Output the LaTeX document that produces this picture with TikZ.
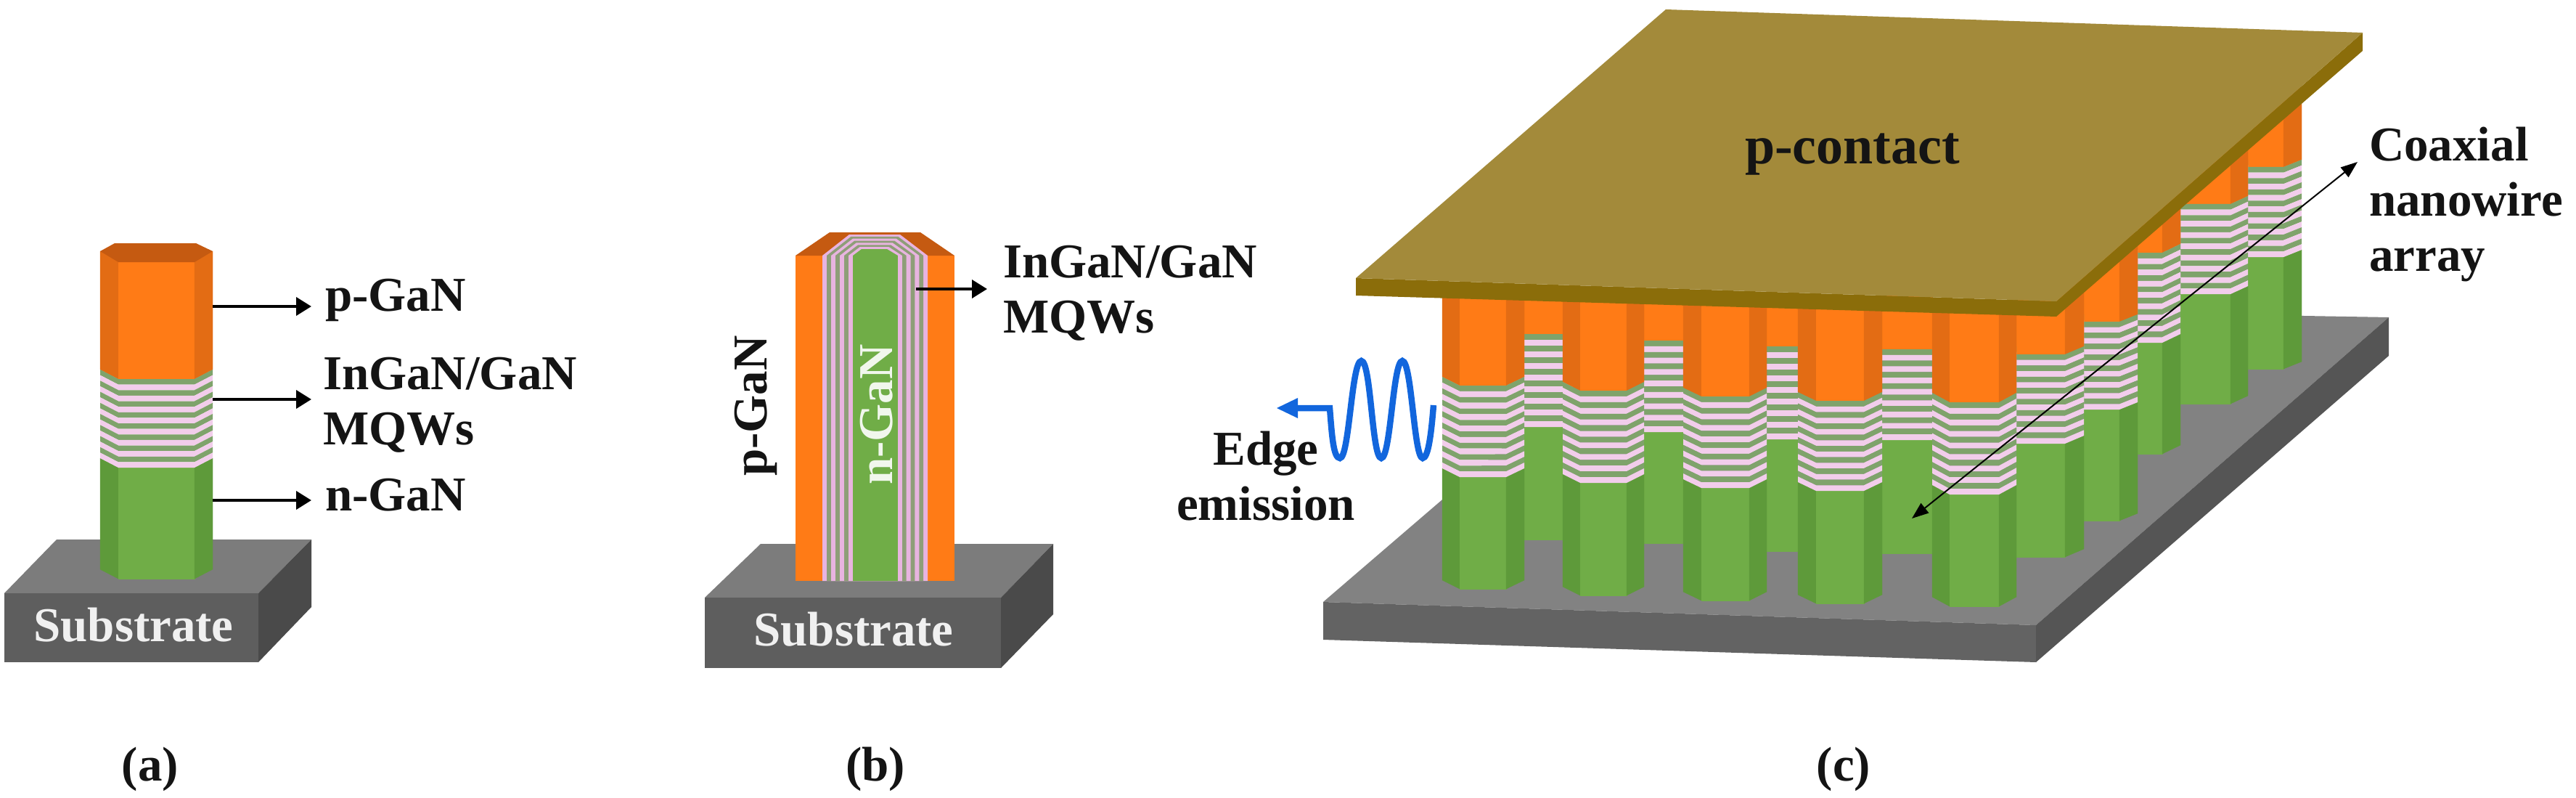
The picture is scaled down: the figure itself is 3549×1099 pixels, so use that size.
\documentclass[tikz,border=0pt]{standalone}
\usepackage{fontspec}
\setmainfont{Liberation Serif}
\usetikzlibrary{arrows.meta}
\definecolor{orF}{HTML}{FF7B16}
\definecolor{orS}{HTML}{E36C14}
\definecolor{orT}{HTML}{C55A11}
\definecolor{grF}{HTML}{70AD47}
\definecolor{grS}{HTML}{5E9A3A}
\definecolor{mqG}{HTML}{7FA36B}
\definecolor{mqP}{HTML}{F2CDEB}
\definecolor{shP}{HTML}{E8B4E0}
\definecolor{shG}{HTML}{8E9E78}
\definecolor{subT}{HTML}{7C7C7C}
\definecolor{subF}{HTML}{5E5E5E}
\definecolor{subS}{HTML}{4A4A4A}
\definecolor{baseT}{HTML}{828282}
\definecolor{baseF}{HTML}{636363}
\definecolor{baseS}{HTML}{555555}
\definecolor{plateT}{HTML}{A38A3A}
\definecolor{plateS}{HTML}{8B6D0A}
\definecolor{waveB}{HTML}{1266DD}
\tikzset{
  lab/.style={inner sep=0pt,outer sep=0pt,font=\fontsize{67}{76}\selectfont\bfseries,text=black!92},
  sublab/.style={lab,text=white!94!black},
  callout/.style={line width=4pt,-{Triangle[length=21pt,width=25pt]}},
  thinboth/.style={line width=2pt,{Triangle[length=23pt,width=17pt]}-{Triangle[length=23pt,width=17pt]}},
  solid/.style={fill=#1,draw=#1,line width=.4pt,line join=round},
}
% \wire(x0,x1,x2,x3)(orangeBottom,mqwBottom,wireBottom,sideRise,top)
\def\wire(#1,#2,#3,#4)(#5,#6,#7,#8,#9){%
  \path[solid=orS] (#1,#9)--(#2,#9)--(#2,#5)--(#1,#5-#8)--cycle;
  \path[solid=orF] (#2,#9)--(#3,#9)--(#3,#5)--(#2,#5)--cycle;
  \path[solid=orS] (#3,#9)--(#4,#9)--(#4,#5-#8)--(#3,#5)--cycle;
  \path[solid=grS] (#1,#6-#8)--(#2,#6)--(#2,#7)--(#1,#7-#8)--cycle;
  \path[solid=grF] (#2,#6)--(#3,#6)--(#3,#7)--(#2,#7)--cycle;
  \path[solid=grS] (#3,#6)--(#4,#6-#8)--(#4,#7-#8)--(#3,#7)--cycle;
  \pgfmathsetmacro\pp{(#6-#5)/16}
  \foreach \k in {0,...,7}{%
    \pgfmathsetmacro\ya{#5+2*\k*\pp}
    \pgfmathsetmacro\yb{\ya+\pp}
    \pgfmathsetmacro\yc{\yb+\pp}
    \fill[mqG] (#1,\ya-#8)--(#2,\ya)--(#3,\ya)--(#4,\ya-#8)--(#4,\yb-#8)--(#3,\yb)--(#2,\yb)--(#1,\yb-#8)--cycle;
    \fill[mqP] (#1,\yb-#8)--(#2,\yb)--(#3,\yb)--(#4,\yb-#8)--(#4,\yc-#8)--(#3,\yc)--(#2,\yc)--(#1,\yc-#8)--cycle;
  }%
}
\begin{document}
\begin{tikzpicture}[x=1pt,y=-1pt]
\useasboundingbox (0,0) rectangle (3549,1099);
\fill[white] (0,0) rectangle (3549,1099);

%% ---------- panel (a)
\fill[subT] (78,743)--(429,743)--(356,817)--(6,817)--cycle;
\fill[subS] (429,743)--(429,836)--(356,912)--(356,817)--cycle;
\fill[subF] (6,817) rectangle (356,912);
\wire(138,163,268,293)(522,644,797,13,346)
\fill[orT] (158,335)--(270,335)--(293,346)--(268,361)--(163,361)--(138,346)--cycle;
\node[sublab,anchor=base] (subA) at (184,883) {Substrate};
\node[lab,anchor=base west] (pA) at (448,428) {p-GaN};
\node[lab,anchor=base west,align=left] (mA) at (445,612) {InGaN/GaN\\MQWs};
\node[lab,anchor=base west] (nA) at (448,703) {n-GaN};
\node[lab,anchor=base] (capA) at (207,1075) {(a)};
\coordinate (pAs) at (293,422); \coordinate (pAe) at (429,422);
\coordinate (mAs) at (293,550); \coordinate (mAe) at (429,550);
\coordinate (nAs) at (293,689); \coordinate (nAe) at (429,689);
\draw[callout] (pAs)--(pAe);
\draw[callout] (mAs)--(mAe);
\draw[callout] (nAs)--(nAe);

%% ---------- panel (b)
\fill[subT] (1048,749)--(1451,749)--(1379,823)--(971,823)--cycle;
\fill[subS] (1451,749)--(1451,846)--(1379,920)--(1379,823)--cycle;
\fill[subF] (971,823) rectangle (1379,920);
\fill[orF] (1096,352) rectangle (1315,800);
\fill[orT] (1143,320)--(1268,320)--(1315,352)--(1096,352)--cycle;
\foreach \t/\c in {0/shP,1/shG,2/shP,3/shG,4/shP,5/shG,6/shP,7/grF}{
  \fill[\c] (1133+6*\t,800)--(1133+6*\t,352)--(1170+2.43*\t,323+2.86*\t)--(1240-2.57*\t,323+2.86*\t)--(1278-5.86*\t,352)--(1278-5.86*\t,800)--cycle;
}
\node[sublab,anchor=base] (subB) at (1176,889) {Substrate};
\node[lab,anchor=base,rotate=90] (pB) at (1056,559) {p-GaN};
\node[sublab,anchor=base,rotate=90,text=white!90!grF] (nB) at (1229,571) {n-GaN};
\node[lab,anchor=base west,align=left] (mB) at (1382,458) {InGaN/GaN\\MQWs};
\node[lab,anchor=base] (capB) at (1206,1075) {(b)};
\coordinate (mBs) at (1262,398); \coordinate (mBe) at (1360,398);
\draw[callout] (mBs)--(mBe);

%% ---------- panel (c)
\fill[baseT] (1823,829)--(2805,861)--(3291,437)--(2299,420)--cycle;
\fill[baseF] (1823,829)--(2805,861)--(2805,912)--(1823,881)--cycle;
\fill[baseS] (2805,861)--(3291,437)--(3291,490)--(2805,912)--cycle;
% rear row, seen between the front wires
\wire(2100,2100,2153,2153)(460,588,743,0,405)
\wire(2265,2265,2319,2319)(469,595,748,0,405)
\wire(2434,2434,2477,2477)(477,605,759,0,405)
\wire(2593,2593,2662,2662)(481,606,762,0,405)
% right column, back to front
\wire(3097,3097,3146,3171)(230,354,508,10,120)
\wire(3004,3004,3073,3097)(281,405,556,11,180)
\wire(2945,2945,2979,3004)(348,472,625,12,250)
\wire(2871,2871,2920,2945)(443,564,717,10,320)
\wire(2778,2778,2845,2871)(488,611,767,11,380)
% front row
\wire(1987,2011,2075,2100)(531,657,811,12,400)
\wire(2153,2177,2241,2265)(538,665,820,12,405)
\wire(2319,2344,2410,2434)(546,672,827,12,410)
\wire(2477,2502,2568,2593)(552,676,831,12,415)
\wire(2662,2686,2754,2778)(554,681,835,13,420)
% p-contact
\fill[plateS] (1868,383)--(2833,415)--(2833,436)--(1868,407)--cycle;
\fill[plateS] (2833,415)--(3255,45)--(3255,70)--(2833,436)--cycle;
\fill[plateT] (2295,13)--(3255,45)--(2833,415)--(1868,383)--cycle;
\node[lab,anchor=base,font=\fontsize{74}{80}\selectfont\bfseries] (pc) at (2552,226) {p-contact};
\node[lab,anchor=base west,align=left] (cx) at (3264,373) {Coaxial\\nanowire\\array};
\node[lab,anchor=base,align=center] (ee) at (1744,716) {Edge\\emission};
\node[lab,anchor=base] (capC) at (2540,1075) {(c)};
\coordinate (arS) at (3248,223); \coordinate (arE) at (2634,714);
\draw[thinboth] (arS)--(arE);
% emission wave
\coordinate (wvS) at (1975,558); \coordinate (wvE) at (1759,562);
\fill[waveB] (wvE)--(1788,548)--(1788,576)--cycle;
\draw[waveB,line width=8.5pt,line join=miter]
  (1785,562)--(1832,562) .. controls (1835,600) and (1837,631) .. (1846,631)
  .. controls (1859,631) and (1862,497) .. (1875.5,497)
  .. controls (1889,497) and (1890,631) .. (1903,631)
  .. controls (1916,631) and (1919,497) .. (1932,497)
  .. controls (1945,497) and (1948,631) .. (1960,631)
  .. controls (1968,631) and (1972,595) .. (wvS);
\end{tikzpicture}
\end{document}
